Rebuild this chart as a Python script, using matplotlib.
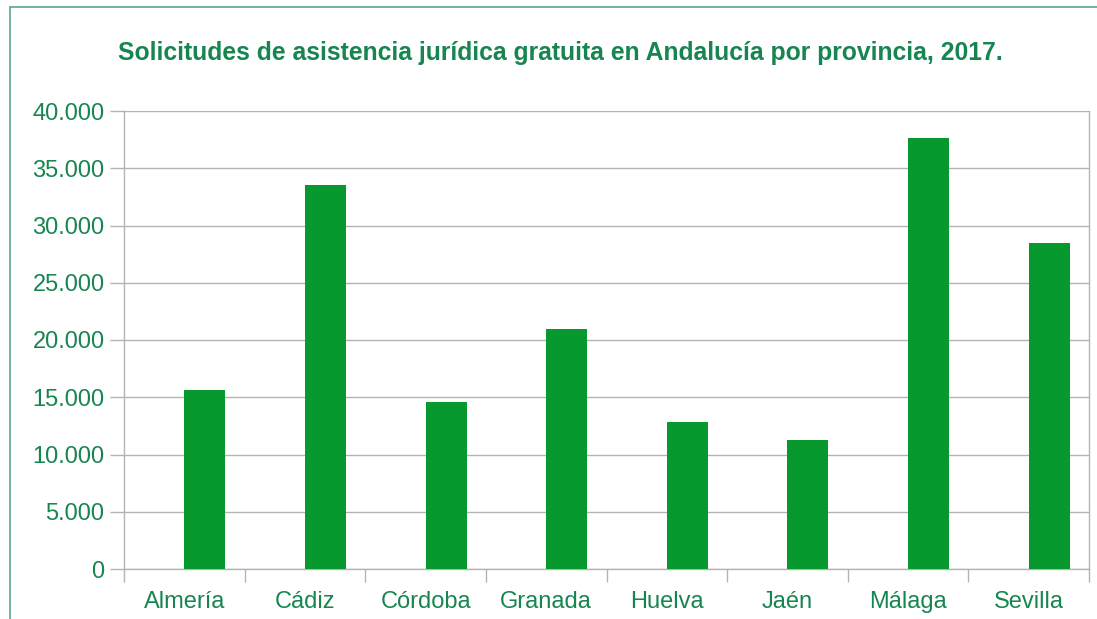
import matplotlib
matplotlib.use("Agg")
import matplotlib.pyplot as plt
from matplotlib.patches import Rectangle
from matplotlib.ticker import FuncFormatter, MultipleLocator

provincias = ["Almería", "Cádiz", "Córdoba", "Granada", "Huelva", "Jaén", "Málaga", "Sevilla"]
solicitudes = [15600, 33500, 14600, 21000, 12800, 11300, 37600, 28500]
titulo = "Solicitudes de asistencia jurídica gratuita en Andalucía por provincia, 2017."

plt.rcParams['font.family'] = ['Liberation Sans', 'DejaVu Sans']
text_color = '#178550'
bar_color = '#07982e'
grid_color = '#b3b3b3'

W, H = 1097, 619
fig = plt.figure(figsize=(W / 100, H / 100), dpi=100)
fig.patch.set_facecolor('white')

# outer frame
fig.add_artist(Rectangle((10 / W, -0.1), 1.2, 1 - 7 / H + 0.1, transform=fig.transFigure,
                         fill=False, edgecolor='#5aa882', linewidth=1.2))

ax = fig.add_axes([124 / W, 1 - 569 / H, (1089 - 124) / W, (569 - 111) / H])

x = list(range(len(provincias)))
ax.bar([i + 0.5 for i in x], solicitudes, width=0.34, align='edge', color=bar_color, zorder=3)

ax.set_xlim(0, len(provincias))
ax.set_ylim(0, 40000)
ax.yaxis.set_major_locator(MultipleLocator(5000))
ax.yaxis.set_major_formatter(FuncFormatter(lambda v, p: f"{int(v):,}".replace(",", ".")))
ax.grid(axis='y', color=grid_color, linewidth=1, zorder=0)

ax.set_xticks(range(len(provincias) + 1))
ax.set_xticklabels([])
ax.set_xticks([i + 0.5 for i in x], minor=True)
ax.set_xticklabels(provincias, minor=True)
ax.tick_params(axis='x', which='major', length=9, color=grid_color, width=1)
ax.tick_params(axis='x', which='minor', length=0, pad=15.5, labelsize=17, labelcolor=text_color)
ax.tick_params(axis='y', length=10, color=grid_color, width=1, labelsize=17,
               labelcolor=text_color, pad=4)

for s in ax.spines.values():
    s.set_color(grid_color)
    s.set_linewidth(1)
ax.spines['top'].set_visible(False)

fig.text(560 / W, 1 - 53 / H, titulo, ha='center', va='center', fontsize=17.8,
         fontweight='bold', color=text_color)

fig.savefig("out.png", dpi=100, facecolor='white')
